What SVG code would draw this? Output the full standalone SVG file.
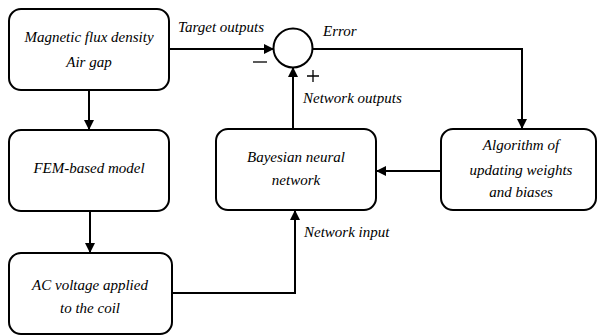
<svg xmlns="http://www.w3.org/2000/svg" width="597" height="336" viewBox="0 0 597 336">
<defs>
<marker id="ah" markerWidth="10" markerHeight="10" refX="9" refY="5" orient="auto" markerUnits="userSpaceOnUse">
<path d="M0,0 L10,5 L0,10 Z" fill="#000"/>
</marker>
<style>
.box{fill:#fff;stroke:#000;stroke-width:2}
.ln{fill:none;stroke:#000;stroke-width:2}
</style>
</defs>
<rect width="597" height="336" fill="#fff"/>
<g id="connectors">
<line class="ln" x1="89" y1="90" x2="89" y2="129" marker-end="url(#ah)"/>
<line class="ln" x1="90" y1="211" x2="90" y2="252" marker-end="url(#ah)"/>
<polyline class="ln" points="172,293 295,293 295,211" marker-end="url(#ah)"/>
<line class="ln" x1="169" y1="49" x2="273" y2="49" marker-end="url(#ah)"/>
<line class="ln" x1="293" y1="129" x2="293" y2="68" marker-end="url(#ah)"/>
<polyline class="ln" points="313,49 522,49 522,128" marker-end="url(#ah)"/>
<line class="ln" x1="441" y1="171" x2="377" y2="171" marker-end="url(#ah)"/>
<line x1="253" y1="62" x2="267" y2="62" stroke="#000" stroke-width="1.3"/>
<path d="M307,76 H319 M313,70 V82" stroke="#000" stroke-width="1.3" fill="none"/>
</g>
<g font-family="Liberation Serif, DejaVu Serif, serif" font-style="italic" font-size="15" fill="#000">
<text x="178" y="32">Target outputs</text>
<text x="323" y="36">Error</text>
<text x="303" y="103">Network outputs</text>
<text x="304" y="237">Network input</text>
</g>
<g id="sum">
<circle cx="293" cy="48" r="19.5" fill="#fff" stroke="#000" stroke-width="2"/>
</g>
<g font-family="Liberation Serif, DejaVu Serif, serif" font-style="italic" font-size="15" fill="#000" text-anchor="middle">
<g id="magnetic">
<rect class="box" x="9" y="9" width="160" height="81" rx="12"/>
<text x="89" y="42">Magnetic flux density</text>
<text x="89" y="67">Air gap</text>
</g>
<g id="fem">
<rect class="box" x="9" y="130" width="160" height="81" rx="12"/>
<text x="89" y="173">FEM-based model</text>
</g>
<g id="ac">
<rect class="box" x="9" y="253" width="163" height="81" rx="12"/>
<text x="90" y="290">AC voltage applied</text>
<text x="90" y="313">to the coil</text>
</g>
<g id="bnn">
<rect class="box" x="216" y="129" width="160" height="81" rx="12"/>
<text x="296" y="162">Bayesian neural</text>
<text x="296" y="185">network</text>
</g>
<g id="algorithm">
<rect class="box" x="441" y="129" width="155" height="81" rx="12"/>
<text x="521" y="150">Algorithm of</text>
<text x="521" y="175">updating weights</text>
<text x="521" y="197">and biases</text>
</g>
</g>
</svg>
